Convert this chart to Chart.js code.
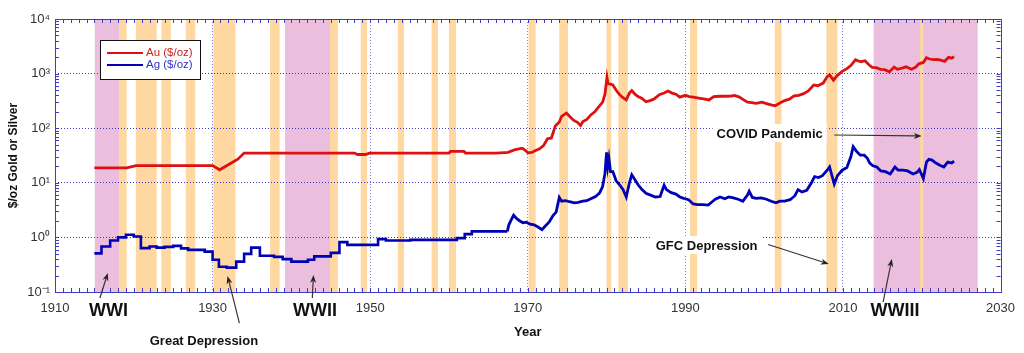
<!DOCTYPE html>
<html><head><meta charset="utf-8">
<script src="https://cdn.jsdelivr.net/npm/chart.js@4.4.1/dist/chart.umd.min.js"></script>
<style>html,body{margin:0;padding:0;background:#fff;}canvas{display:block;}</style>
</head><body>
<canvas id="c" width="1024" height="353"></canvas>
<script>
// ---------- axis ticks ----------
const xTickValues = [1910, 1930, 1950, 1970, 1990, 2010, 2030];
const xTickLabels = ['1910', '1930', '1950', '1970', '1990', '2010', '2030'];
const yTickValues = [0.1, 1, 10, 100, 1000, 10000];
const yTickLabels = ['10⁻¹', '10⁰', '10¹', '10²', '10³', '10⁴'];

// ---------- series ----------
const goldLabel = 'Au ($/oz)';
const silverLabel = 'Ag ($/oz)';

const goldYears = [1915.0, 1919.1, 1920.3, 1930.0, 1930.9, 1933.2, 1934.0, 1948.0, 1948.4, 1949.4, 1949.9, 1960.0, 1960.2, 1961.9, 1962.1, 1966.0,
  1967.5, 1968.3, 1969.3, 1969.8, 1970.0, 1970.5, 1971.0, 1971.5, 1972.0, 1972.5, 1973.0, 1973.5, 1974.0, 1974.3, 1974.9, 1975.3, 1975.8,
  1976.3, 1976.7, 1977.0, 1977.5, 1978.0, 1978.5, 1979.0, 1979.5, 1979.8, 1980.05, 1980.2, 1980.5, 1980.8, 1981.2, 1981.6, 1982.0, 1982.5,
  1982.9, 1983.2, 1983.6, 1984.0, 1984.5, 1985.0, 1985.5, 1986.0, 1986.7, 1987.3, 1987.8, 1988.3, 1988.8, 1989.3, 1990.0, 1990.5, 1991.0,
  1991.5, 1992.3, 1993.0, 1993.6, 1994.3, 1995.0, 1995.8, 1996.2, 1996.8, 1997.4, 1997.9, 1998.4, 1999.0, 1999.7, 2000.4, 2001.0, 2001.4,
  2002.0, 2002.6, 2003.2, 2003.8, 2004.4, 2005.0, 2005.6, 2006.3, 2006.8, 2007.5, 2008.0, 2008.3, 2008.8, 2009.3, 2009.9, 2010.5, 2011.0,
  2011.6, 2011.9, 2012.3, 2012.8, 2013.3, 2013.7, 2014.2, 2014.8, 2015.3, 2015.9, 2016.5, 2016.9, 2017.5, 2018.0, 2018.7, 2019.2, 2019.6,
  2020.2, 2020.6, 2021.0, 2021.5, 2022.0, 2022.5, 2022.9, 2023.4, 2023.8, 2024.1];
const goldPrices = [18.8, 18.8, 20.67, 20.67, 17.3, 27, 35, 35, 33, 33, 35, 35, 37.5, 37.5, 35, 35,
  36, 40, 43, 38, 35.5, 36, 39, 42, 48, 64, 66, 110, 130, 165, 190, 165, 140,
  128, 112, 132, 145, 175, 200, 245, 300, 420, 850, 650, 640, 620, 500, 420, 370, 330,
  440, 490, 420, 380, 350, 305, 320, 340, 410, 440, 480, 440, 420, 370, 400, 380, 370,
  360, 345, 330, 380, 385, 385, 388, 400, 375, 330, 300, 295, 285, 300, 280, 265, 258,
  290, 320, 340, 390, 400, 430, 480, 620, 600, 670, 880, 950, 760, 930, 1100, 1230, 1400,
  1800, 1720, 1650, 1720, 1450, 1300, 1290, 1200, 1180, 1080, 1320, 1200, 1260, 1330, 1200, 1300, 1500,
  1600, 1950, 1850, 1800, 1820, 1750, 1680, 1980, 1920, 2050];

// early silver: yearly/official step prices
const silverStepYears = [1915.0, 1915.9, 1917.0, 1918.0, 1919.0, 1920.0, 1920.9, 1922.0, 1922.9, 1923.9, 1925.0, 1926.0, 1926.9, 1927.9,
  1929.0, 1930.0, 1930.8, 1931.8, 1933.0, 1934.0, 1934.9, 1936.0, 1937.8, 1938.9, 1940.0, 1942.1, 1942.9, 1945.0, 1946.1, 1947.1,
  1951.0, 1952.0, 1955.1, 1961.0, 1962.0, 1962.9, 1967.4];
const silverStepPrices = [0.51, 0.68, 0.88, 1.0, 1.12, 1.04, 0.635, 0.68, 0.65, 0.67, 0.70, 0.63, 0.59, 0.59,
  0.55, 0.39, 0.29, 0.28, 0.36, 0.50, 0.65, 0.46, 0.44, 0.40, 0.36, 0.39, 0.45, 0.52, 0.82, 0.73,
  0.93, 0.88, 0.90, 0.97, 1.15, 1.29, 1.29];

// free-market silver
const silverYears = [1967.4, 1967.6, 1967.9, 1968.2, 1968.6, 1969.0, 1969.4, 1969.8, 1970.3, 1970.8, 1971.3, 1971.8, 1972.2, 1972.7,
  1973.2, 1973.6, 1974.0, 1974.3, 1974.8, 1975.3, 1975.9, 1976.4, 1977.0, 1977.5, 1978.0, 1978.6, 1979.1, 1979.5, 1979.8, 1980.0,
  1980.15, 1980.3, 1980.5, 1980.8, 1981.2, 1981.7, 1982.1, 1982.5, 1982.9, 1983.2, 1983.5, 1984.0, 1984.5, 1985.0, 1985.5, 1986.2,
  1986.8, 1987.3, 1987.6, 1988.2, 1988.8, 1989.3, 1989.8, 1990.4, 1991.0, 1991.5, 1992.2, 1992.9, 1993.4, 1993.8, 1994.4, 1995.0,
  1995.5, 1996.1, 1996.7, 1997.3, 1997.9, 1998.1, 1998.5, 1999.0, 1999.6, 2000.3, 2000.9, 2001.5, 2002.0, 2002.6, 2003.3, 2003.9,
  2004.3, 2004.8, 2005.4, 2006.0, 2006.4, 2006.9, 2007.4, 2008.0, 2008.3, 2008.9, 2009.3, 2009.9, 2010.5, 2011.0, 2011.3, 2011.7,
  2012.2, 2012.7, 2013.1, 2013.4, 2013.8, 2014.3, 2014.8, 2015.4, 2016.0, 2016.6, 2017.0, 2017.6, 2018.2, 2018.9, 2019.4, 2019.7,
  2020.2, 2020.6, 2020.9, 2021.3, 2021.8, 2022.3, 2022.8, 2023.3, 2023.8, 2024.1];
const silverPrices = [1.29, 1.7, 2.1, 2.55, 2.2, 2.0, 1.85, 1.9, 1.75, 1.7, 1.55, 1.38, 1.6, 1.9,
  2.5, 2.9, 5.4, 4.6, 4.7, 4.5, 4.3, 4.4, 4.6, 4.7, 5.1, 5.6, 6.5, 8.5, 15, 36,
  20, 28, 16, 16, 11, 9, 7.5, 5.5, 10, 14, 12, 9.2, 7.5, 6.4, 6.0, 5.5,
  5.6, 9.0, 7.5, 6.6, 6.2, 5.5, 5.2, 4.9, 4.1, 4.0, 4.0, 3.9, 4.5, 5.0, 5.5, 5.1,
  5.5, 5.3, 5.0, 4.6, 6.0, 7.0, 5.4, 5.2, 5.3, 5.0, 4.6, 4.3, 4.6, 4.6, 4.9, 5.8,
  7.5, 6.8, 7.3, 10, 13, 12.5, 13.5, 17, 19.5, 9.5, 13.5, 17, 19, 30, 46, 38,
  32, 32, 28, 23, 20.5, 19.5, 16.5, 16, 14.5, 19.5, 17, 17, 16.5, 14.5, 15.5, 17.5,
  12, 24, 27, 26, 23, 21, 19.5, 24, 23, 25];

// ---------- shaded periods ----------
const warStarts = [1915.05, 1939.2, 2013.9];
const warEnds = [1918.2, 1944.9, 2027.1];
const recessionStarts = [1918.2, 1920.25, 1923.5, 1926.6, 1930.1, 1937.3, 1944.9, 1948.8, 1953.5, 1957.8, 1960.0, 1970.1, 1974.0, 1980.0, 1981.5, 1990.6, 2001.35, 2007.9, 2019.8];
const recessionEnds = [1919.1, 1922.9, 1924.7, 1927.8, 1932.9, 1938.5, 1945.9, 1949.6, 1954.3, 1958.6, 1960.9, 1971.0, 1975.1, 1980.6, 1982.7, 1991.5, 2002.2, 2009.3, 2020.2];

// ---------- annotations (text anchor and arrows in data coordinates: year, $/oz) ----------
const noteTexts = ['WWI', 'Great Depression', 'WWII', 'WWIII', 'COVID Pandemic', 'GFC Depression'];
const noteYears = [1916.8, 1928.9, 1943.0, 2016.6, 2000.7, 1992.7];
const noteValues = [0.0468, 0.0132, 0.0468, 0.0468, 81.7, 0.726];
const noteSizes = [18, 13, 18, 18, 13, 13];
const noteBoxed = [false, false, false, false, true, true];
const arrowFromYears = [1915.7, 1933.4, 1942.66, 2015.1, 2008.9, 2000.5];
const arrowFromValues = [0.0776, 0.027, 0.0776, 0.0656, 75, 0.74];
const arrowToYears = [1916.7, 1931.9, 1942.8, 2016.2, 2020.0, 2008.2];
const arrowToValues = [0.223, 0.196, 0.205, 0.402, 72, 0.326];

const RED = '#dd1111';
const BLUE = '#0000b4';
const FRAME = '#3c3cc8';
const FONT = "'Liberation Sans', Arial, sans-serif";

const pts = (xs, ys) => xs.map((x, i) => ({x: x, y: ys[i]}));

const bandsPlugin = {
  id: 'bands',
  beforeDraw(chart) {
    const {ctx, chartArea: a, scales: {x}} = chart;
    ctx.save();
    ctx.fillStyle = '#ecbedd';
    warStarts.forEach((s, i) => {
      const x0 = x.getPixelForValue(s), x1 = x.getPixelForValue(warEnds[i]);
      ctx.fillRect(x0, a.top, x1 - x0, a.bottom - a.top);
    });
    ctx.fillStyle = '#fed8a0';
    recessionStarts.forEach((s, i) => {
      const x0 = x.getPixelForValue(s), x1 = x.getPixelForValue(recessionEnds[i]);
      ctx.fillRect(x0, a.top, x1 - x0, a.bottom - a.top);
    });
    ctx.restore();
  }
};

const framePlugin = {
  id: 'frame',
  afterDatasetsDraw(chart) {
    const {ctx, chartArea: a, scales: {x, y}} = chart;
    ctx.save();
    ctx.strokeStyle = FRAME;
    ctx.lineWidth = 1;
    ctx.beginPath();
    const tl = 4;
    for (let yr = 1911; yr < 2030; yr++) {
      const px = Math.round(x.getPixelForValue(yr)) + 0.5;
      ctx.moveTo(px, a.bottom); ctx.lineTo(px, a.bottom - tl);
      ctx.moveTo(px, a.top); ctx.lineTo(px, a.top + tl);
    }
    for (let e = -1; e < 4; e++) {
      for (let m = 1; m <= 9; m++) {
        if (e === -1 && m === 1) continue;
        const py = Math.round(y.getPixelForValue(m * Math.pow(10, e))) + 0.5;
        ctx.moveTo(a.left, py); ctx.lineTo(a.left + tl, py);
        ctx.moveTo(a.right, py); ctx.lineTo(a.right - tl, py);
      }
    }
    ctx.stroke();
    ctx.strokeRect(Math.round(a.left) + 0.5, Math.round(a.top) + 0.5, Math.round(a.right - a.left), Math.round(a.bottom - a.top));
    ctx.restore();
  }
};

function drawArrow(ctx, x0, y0, x1, y1) {
  const ang = Math.atan2(y1 - y0, x1 - x0);
  const hl = 8, hw = 3;
  ctx.beginPath();
  ctx.moveTo(x0, y0);
  ctx.lineTo(x1 - Math.cos(ang) * hl * 0.7, y1 - Math.sin(ang) * hl * 0.7);
  ctx.stroke();
  ctx.beginPath();
  ctx.moveTo(x1, y1);
  ctx.lineTo(x1 - Math.cos(ang) * hl - Math.sin(ang) * hw, y1 - Math.sin(ang) * hl + Math.cos(ang) * hw);
  ctx.lineTo(x1 - Math.cos(ang) * hl * 0.7, y1 - Math.sin(ang) * hl * 0.7);
  ctx.lineTo(x1 - Math.cos(ang) * hl + Math.sin(ang) * hw, y1 - Math.sin(ang) * hl - Math.cos(ang) * hw);
  ctx.closePath();
  ctx.fill();
}

const overlayPlugin = {
  id: 'overlay',
  afterDraw(chart) {
    const {ctx, chartArea: a, scales: {x, y}} = chart;
    ctx.save();
    // legend
    const lx = a.left + 45, ly = a.top + 21, lw = 100, lh = 39;
    ctx.fillStyle = '#fff';
    ctx.fillRect(lx, ly, lw, lh);
    ctx.strokeStyle = '#111';
    ctx.lineWidth = 1;
    ctx.strokeRect(lx + 0.5, ly + 0.5, lw, lh);
    const entries = [];
    chart.data.datasets.forEach(d => { if (!entries.find(e => e.label === d.label)) entries.push(d); });
    ctx.font = '11.5px ' + FONT;
    ctx.textBaseline = 'middle';
    entries.forEach((d, i) => {
      const yy = ly + 13 + i * 12;
      ctx.strokeStyle = d.borderColor;
      ctx.lineWidth = 2;
      ctx.beginPath(); ctx.moveTo(lx + 7, yy); ctx.lineTo(lx + 43, yy); ctx.stroke();
      ctx.fillStyle = d.legendTextColor;
      ctx.fillText(d.label, lx + 46, yy);
    });
    // annotations
    ctx.strokeStyle = '#333';
    ctx.fillStyle = '#222';
    ctx.lineWidth = 1.2;
    noteTexts.forEach((t, i) => {
      drawArrow(ctx, x.getPixelForValue(arrowFromYears[i]), y.getPixelForValue(arrowFromValues[i]),
        x.getPixelForValue(arrowToYears[i]), y.getPixelForValue(arrowToValues[i]));
    });
    noteTexts.forEach((t, i) => {
      const cx = x.getPixelForValue(noteYears[i]), cy = y.getPixelForValue(noteValues[i]);
      ctx.font = 'bold ' + noteSizes[i] + 'px ' + FONT;
      ctx.textAlign = 'center';
      ctx.textBaseline = 'middle';
      if (noteBoxed[i]) {
        const w = ctx.measureText(t).width;
        ctx.fillStyle = '#fff';
        ctx.fillRect(cx - w / 2 - 4, cy - 9, w + 8, 18);
      }
      ctx.fillStyle = '#111';
      ctx.fillText(t, cx, cy + 1);
    });
    ctx.restore();
  }
};

new Chart(document.getElementById('c'), {
  type: 'line',
  data: {
    datasets: [
      {label: goldLabel, data: pts(goldYears, goldPrices), borderColor: RED, legendTextColor: '#cc2222', borderWidth: 2.8, pointRadius: 0, tension: 0},
      {label: silverLabel, data: pts(silverStepYears, silverStepPrices), borderColor: BLUE, legendTextColor: '#3333cc', borderWidth: 2.6, pointRadius: 0, stepped: true},
      {label: silverLabel, data: pts(silverYears, silverPrices), borderColor: BLUE, legendTextColor: '#3333cc', borderWidth: 2.8, pointRadius: 0, tension: 0}
    ]
  },
  options: {
    responsive: false,
    animation: false,
    devicePixelRatio: 1,
    layout: {padding: {top: 19, right: 21, left: 0, bottom: 0}},
    plugins: {legend: {display: false}, tooltip: {enabled: false}},
    scales: {
      x: {
        type: 'linear', min: 1910, max: 2030,
        afterBuildTicks: s => { s.ticks = xTickValues.map(v => ({value: v})); },
        afterFit: s => { s.height = 61; },
        ticks: {
          callback: v => { const i = xTickValues.indexOf(v); return i >= 0 ? xTickLabels[i] : ''; },
          font: {family: FONT, size: 13}, color: '#333', padding: 9, maxRotation: 0, autoSkip: false
        },
        grid: {
          drawTicks: false,
          color: c => (c.tick && (c.tick.value === 1910 || c.tick.value === 2030)) ? 'rgba(0,0,0,0)' : 'rgba(90,90,210,0.75)',
          lineWidth: 1
        },
        border: {display: false, dash: [1, 2]},
        title: {display: true, text: 'Year', font: {family: FONT, size: 13, weight: 'bold'}, color: '#111', padding: {top: 0, bottom: 13}}
      },
      y: {
        type: 'logarithmic', min: 0.1, max: 10000,
        afterBuildTicks: s => { s.ticks = yTickValues.map(v => ({value: v})); },
        afterFit: s => { s.width = 55; },
        ticks: {
          callback: v => { const i = yTickValues.indexOf(v); return i >= 0 ? yTickLabels[i] : ''; },
          font: {family: FONT, size: 13}, color: '#333', padding: 5, autoSkip: false
        },
        grid: {
          drawTicks: false,
          color: c => (c.tick && (c.tick.value === 0.1 || c.tick.value === 10000)) ? 'rgba(0,0,0,0)' : '#3a3ac0',
          lineWidth: 1
        },
        border: {display: false, dash: [1, 2]},
        title: {display: true, text: '$/oz Gold or Silver', font: {family: FONT, size: 12, weight: 'bold'}, color: '#111', padding: {top: 6, bottom: 0}}
      }
    }
  },
  plugins: [bandsPlugin, framePlugin, overlayPlugin]
});
</script>
</body></html>
